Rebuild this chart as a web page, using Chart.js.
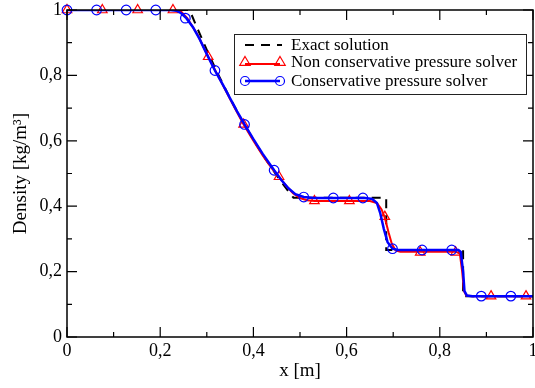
<!DOCTYPE html>
<html>
<head>
<meta charset="utf-8">
<script src="https://cdn.jsdelivr.net/npm/chart.js@4/dist/chart.umd.min.js"></script>
<style>
  html, body { margin: 0; padding: 0; background: #fff; }
  #wrap { width: 535px; height: 388px; position: relative; }
</style>
</head>
<body>
<div id="wrap"><canvas id="density-chart"></canvas></div>
<script>
'use strict';

// exact solution (dashed black)
var exactX = [0, 0.263, 0.28, 0.30, 0.325, 0.35, 0.375, 0.40, 0.425, 0.45, 0.47, 0.486, 0.685, 0.685, 0.850, 0.850, 1];
var exactY = [1, 1, 0.943, 0.878, 0.801, 0.730, 0.664, 0.603, 0.546, 0.494, 0.455, 0.426, 0.426, 0.266, 0.266, 0.125, 0.125];

// non conservative pressure solver (red)
var redX = [0, 0.23, 0.245, 0.258, 0.28, 0.303, 0.32, 0.34, 0.36, 0.379, 0.40, 0.42, 0.44, 0.455, 0.47, 0.485, 0.50, 0.515, 0.531,
            0.65, 0.665, 0.675, 0.682, 0.69, 0.697, 0.705, 0.715, 0.834, 0.843, 0.848, 0.852, 0.857, 0.87, 1];
var redY = [1, 1, 0.995, 0.975, 0.925, 0.857, 0.81, 0.755, 0.70, 0.65, 0.60, 0.555, 0.515, 0.49, 0.463, 0.44, 0.425, 0.418, 0.416,
            0.416, 0.41, 0.39, 0.365, 0.32, 0.285, 0.265, 0.261, 0.261, 0.255, 0.20, 0.14, 0.127, 0.125, 0.125];
var redMarkX = [0, 0.0758, 0.1516, 0.2274, 0.303, 0.379, 0.455, 0.531, 0.606, 0.682, 0.758, 0.834, 0.910, 0.985];
var redMarkY = [1, 1, 1, 1, 0.857, 0.65, 0.49, 0.416, 0.416, 0.368, 0.259, 0.259, 0.125, 0.125];

// conservative pressure solver (blue)
var blueX = [0, 0.22, 0.235, 0.245, 0.256, 0.27, 0.285, 0.30, 0.3175, 0.335, 0.35, 0.365, 0.381, 0.40, 0.42, 0.4445, 0.46, 0.475,
             0.49, 0.508, 0.53, 0.64, 0.655, 0.665, 0.672, 0.68, 0.688, 0.6985, 0.71, 0.84, 0.845, 0.85, 0.853, 0.858, 0.87, 1];
var blueY = [1, 1, 0.998, 0.99, 0.975, 0.948, 0.91, 0.865, 0.815, 0.77, 0.73, 0.69, 0.65, 0.605, 0.56, 0.51, 0.48, 0.455,
             0.437, 0.428, 0.425, 0.425, 0.422, 0.41, 0.38, 0.33, 0.29, 0.27, 0.266, 0.266, 0.26, 0.20, 0.14, 0.127, 0.125, 0.125];
var blueMarkX = [0, 0.0635, 0.127, 0.1905, 0.254, 0.3175, 0.381, 0.4445, 0.508, 0.5715, 0.635, 0.6985, 0.762, 0.8255, 0.889, 0.9525];
var blueMarkY = [1, 1, 1, 1, 0.975, 0.815, 0.65, 0.51, 0.428, 0.425, 0.425, 0.27, 0.266, 0.266, 0.125, 0.125];

var xTickValues = [0, 0.2, 0.4, 0.6, 0.8, 1];
var xTickLabels = ['0', '0,2', '0,4', '0,6', '0,8', '1'];
var yTickValues = [0, 0.2, 0.4, 0.6, 0.8, 1];
var yTickLabels = ['0', '0,2', '0,4', '0,6', '0,8', '1'];

var legendLabels = ['Exact solution', 'Non conservative pressure solver', 'Conservative pressure solver'];

function pts(xs, ys) {
    return xs.map(function (x, i) { return {x: x, y: ys[i]}; });
}

var serif = "'Liberation Serif', 'DejaVu Serif', serif";

// inward ticks on all four sides plus the frame
var frameTicks = {
    id: 'frameTicks',
    afterDatasetsDraw: function (chart) {
        var ctx = chart.ctx, a = chart.chartArea;
        var xs = chart.scales.x, ys = chart.scales.y;
        ctx.save();
        ctx.strokeStyle = '#000';
        ctx.lineWidth = 1.5;
        ctx.strokeRect(a.left, a.top, a.right - a.left, a.bottom - a.top);
        ctx.lineWidth = 1.2;
        for (var i = 0; i <= 10; i++) {
            var v = i / 10;
            var len = (i % 2 === 0) ? 10 : 5;
            var px = xs.getPixelForValue(v);
            var py = ys.getPixelForValue(v);
            ctx.beginPath();
            ctx.moveTo(px, a.bottom); ctx.lineTo(px, a.bottom - len);
            ctx.moveTo(px, a.top); ctx.lineTo(px, a.top + len);
            ctx.moveTo(a.left, py); ctx.lineTo(a.left + len, py);
            ctx.moveTo(a.right, py); ctx.lineTo(a.right - len, py);
            ctx.stroke();
        }
        ctx.restore();
    }
};

function drawTriangle(ctx, x, y, r) {
    ctx.beginPath();
    ctx.moveTo(x, y - r);
    ctx.lineTo(x + r * 0.95, y + r * 0.6);
    ctx.lineTo(x - r * 0.95, y + r * 0.6);
    ctx.closePath();
    ctx.stroke();
}

var boxLegend = {
    id: 'boxLegend',
    afterDraw: function (chart) {
        var ctx = chart.ctx, a = chart.chartArea;
        var bx = a.left + 167, by = a.top + 24, bw = 292, bh = 60;
        ctx.save();
        ctx.fillStyle = '#fff';
        ctx.fillRect(bx, by, bw, bh);
        ctx.strokeStyle = '#222';
        ctx.lineWidth = 1;
        ctx.strokeRect(bx + 0.5, by + 0.5, bw, bh);

        var x1 = bx + 11, x2 = bx + 46, tx = bx + 57;
        var rows = [by + 11, by + 28, by + 47];

        ctx.lineWidth = 2;
        ctx.strokeStyle = '#000';
        ctx.setLineDash([9, 7]);
        ctx.beginPath(); ctx.moveTo(x1, rows[0]); ctx.lineTo(x2 + 2, rows[0]); ctx.stroke();
        ctx.setLineDash([]);

        ctx.strokeStyle = '#ff0000';
        ctx.lineWidth = 2;
        ctx.beginPath(); ctx.moveTo(x1, rows[1] + 2); ctx.lineTo(x2, rows[1] + 2); ctx.stroke();
        ctx.lineWidth = 1.2;
        drawTriangle(ctx, x1, rows[1], 5.5);
        drawTriangle(ctx, x2, rows[1], 5.5);

        ctx.strokeStyle = '#0000ff';
        ctx.lineWidth = 2.5;
        ctx.beginPath(); ctx.moveTo(x1, rows[2]); ctx.lineTo(x2, rows[2]); ctx.stroke();
        ctx.lineWidth = 1.2;
        ctx.beginPath(); ctx.arc(x1, rows[2], 4.5, 0, Math.PI * 2); ctx.stroke();
        ctx.beginPath(); ctx.arc(x2, rows[2], 4.5, 0, Math.PI * 2); ctx.stroke();

        ctx.fillStyle = '#000';
        ctx.font = '17px ' + serif;
        ctx.textBaseline = 'middle';
        ctx.textAlign = 'left';
        for (var i = 0; i < legendLabels.length; i++) {
            ctx.fillText(legendLabels[i], tx, rows[i] + 1);
        }
        ctx.restore();
    }
};

new Chart(document.getElementById('density-chart'), {
    type: 'scatter',
    data: {
        datasets: [
            {
                label: legendLabels[2] + ' markers',
                data: pts(blueMarkX, blueMarkY),
                showLine: false,
                pointStyle: 'circle',
                pointRadius: 4.8,
                pointBorderWidth: 1.2,
                pointBorderColor: '#0000ff',
                pointBackgroundColor: 'rgba(0,0,0,0)',
                clip: false,
                order: 0
            },
            {
                label: legendLabels[2],
                data: pts(blueX, blueY),
                showLine: true,
                borderColor: '#0000ff',
                borderWidth: 2.5,
                pointRadius: 0,
                tension: 0,
                order: 1
            },
            {
                label: legendLabels[1] + ' markers',
                data: pts(redMarkX, redMarkY),
                showLine: false,
                pointStyle: 'triangle',
                pointRadius: 5.5,
                pointBorderWidth: 1.2,
                pointBorderColor: '#ff0000',
                pointBackgroundColor: 'rgba(0,0,0,0)',
                clip: false,
                order: 2
            },
            {
                label: legendLabels[1],
                data: pts(redX, redY),
                showLine: true,
                borderColor: '#ff0000',
                borderWidth: 2,
                pointRadius: 0,
                tension: 0,
                order: 3
            },
            {
                label: legendLabels[0],
                data: pts(exactX, exactY),
                showLine: true,
                borderColor: '#000000',
                borderWidth: 2,
                borderDash: [9, 7],
                pointRadius: 0,
                tension: 0,
                order: 4
            }
        ]
    },
    options: {
        responsive: true,
        maintainAspectRatio: false,
        animation: false,
        events: [],
        layout: { autoPadding: false, padding: { left: 0, right: 2, top: 10, bottom: 0 } },
        plugins: {
            legend: { display: false },
            tooltip: { enabled: false }
        },
        scales: {
            x: {
                type: 'linear',
                min: 0,
                max: 1,
                afterBuildTicks: function (scale) {
                    scale.ticks = xTickValues.map(function (v) { return {value: v}; });
                },
                afterFit: function (scale) {
                    scale.height = 51;
                    scale.paddingLeft = 0;
                    scale.paddingRight = 0;
                },
                grid: { display: false, drawTicks: false },
                border: { display: false },
                ticks: {
                    autoSkip: false,
                    maxRotation: 0,
                    padding: 3,
                    color: '#000',
                    font: { family: serif, size: 18 },
                    callback: function (v, i) { return xTickLabels[i]; }
                },
                title: {
                    display: true,
                    text: 'x [m]',
                    color: '#000',
                    font: { family: serif, size: 19 },
                    padding: { top: 0, bottom: 6 }
                }
            },
            y: {
                type: 'linear',
                min: 0,
                max: 1,
                afterBuildTicks: function (scale) {
                    scale.ticks = yTickValues.map(function (v) { return {value: v}; });
                },
                afterFit: function (scale) {
                    scale.width = 67;
                    scale.paddingTop = 0;
                    scale.paddingBottom = 0;
                },
                grid: { display: false, drawTicks: false },
                border: { display: false },
                ticks: {
                    autoSkip: false,
                    padding: 5,
                    color: '#000',
                    font: { family: serif, size: 18 },
                    callback: function (v, i) { return yTickLabels[i]; }
                },
                title: {
                    display: true,
                    text: 'Density [kg/m\u00b3]',
                    color: '#000',
                    font: { family: serif, size: 19 },
                    padding: { top: 10, bottom: 0 }
                }
            }
        }
    },
    plugins: [frameTicks, boxLegend]
});
</script>
</body>
</html>
